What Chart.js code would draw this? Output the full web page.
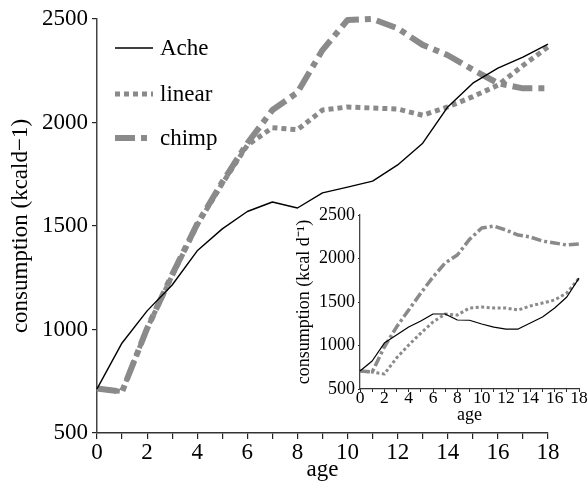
<!DOCTYPE html>
<html>
<head>
<meta charset="utf-8">
<script src="https://cdn.jsdelivr.net/npm/chart.js@4.4.1/dist/chart.umd.min.js"></script>
<style>
  html, body { margin: 0; padding: 0; background: #fff; }
  #wrap { position: relative; width: 588px; height: 485px; overflow: hidden; }
  #main { position: absolute; left: 0; top: 0; }
  #inset { position: absolute; left: 280px; top: 195px; }
</style>
</head>
<body>
<div id="wrap">
  <canvas id="main" width="588" height="485"></canvas>
  <canvas id="inset" width="308" height="235"></canvas>
</div>
<script>
// ---- data ----
const ages = [0, 1, 2, 3, 4, 5, 6, 7, 8, 9, 10, 11, 12, 13, 14, 15, 16, 17, 18];
const seriesNames = ['Ache', 'linear', 'chimp'];

const acheMain   = [713, 935, 1090, 1215, 1380, 1486, 1570, 1616, 1587, 1660, 1688, 1717, 1795, 1900, 2075, 2190, 2263, 2316, 2379];
const linearMain = [715, 700, 1005, 1260, 1505, 1705, 1890, 1975, 1965, 2060, 2075, 2070, 2065, 2035, 2075, 2125, 2180, 2275, 2365];
const chimpMain  = [715, 700, 1005, 1265, 1510, 1712, 1900, 2060, 2145, 2350, 2495, 2500, 2455, 2375, 2325, 2255, 2190, 2165, 2165];

const acheInset   = [707, 822, 1028, 1120, 1212, 1281, 1362, 1362, 1293, 1290, 1247, 1212, 1189, 1189, 1258, 1327, 1431, 1557, 1775];
const linearInset = [707, 695, 672, 856, 1005, 1143, 1270, 1362, 1350, 1431, 1442, 1431, 1431, 1408, 1454, 1488, 1523, 1603, 1775];
const chimpInset  = [707, 695, 983, 1212, 1408, 1603, 1787, 1948, 2040, 2220, 2350, 2373, 2327, 2270, 2247, 2200, 2178, 2155, 2166];

const yTicks = [500, 1000, 1500, 2000, 2500];
const xLabelStep = 2;
const mainYTitle = 'consumption (kcald\u22121)';
const insetYTitle = 'consumption (kcal d\u207B\u00B9)';
const xTitle = 'age';

// ---- helpers ----
const GRAY = '#8a8a8a';
const FONT = "'Liberation Serif', 'Times New Roman', serif";
const pts = arr => ages.map((a, i) => ({ x: a, y: arr[i] }));

function styles(big) {
  return big ? [
    { borderColor: '#000', borderWidth: 1.4, borderDash: [] },
    { borderColor: GRAY, borderWidth: 5, borderDash: [5, 4] },
    { borderColor: GRAY, borderWidth: 6, borderDash: [20, 6, 6, 6] }
  ] : [
    { borderColor: '#000', borderWidth: 1.2, borderDash: [] },
    { borderColor: GRAY, borderWidth: 3, borderDash: [3, 2.5] },
    { borderColor: GRAY, borderWidth: 3.5, borderDash: [10, 3, 3, 3] }
  ];
}

function makeDatasets(arrs, big) {
  const st = styles(big);
  return arrs.map((arr, i) => ({
    label: seriesNames[i],
    data: pts(arr),
    borderColor: st[i].borderColor,
    borderWidth: st[i].borderWidth,
    borderDash: st[i].borderDash,
    borderCapStyle: 'butt',
    borderJoinStyle: 'round',
    pointRadius: 0,
    tension: 0,
    fill: false,
    clip: 10
  }));
}

// legend drawn inside the main plot
const legendPlugin = {
  id: 'innerLegend',
  afterDraw(chart) {
    const ctx = chart.ctx;
    const x0 = 115, x1 = 153, tx = 160;
    const ys = [48, 94, 138];
    chart.data.datasets.forEach((ds, i) => {
      ctx.save();
      ctx.strokeStyle = ds.borderColor;
      ctx.lineWidth = ds.borderWidth;
      ctx.setLineDash(ds.borderDash);
      ctx.lineCap = 'butt';
      ctx.beginPath();
      ctx.moveTo(x0, ys[i]);
      ctx.lineTo(x1, ys[i]);
      ctx.stroke();
      ctx.setLineDash([]);
      ctx.fillStyle = '#000';
      ctx.font = "23px " + FONT;
      ctx.textBaseline = 'middle';
      ctx.textAlign = 'left';
      ctx.fillText(ds.label, tx, ys[i] + 1);
      ctx.restore();
    });
  }
};

Chart.defaults.font.family = FONT;
Chart.defaults.color = '#000';

const plainNum = v => String(v);

// ---- main chart ----
new Chart(document.getElementById('main'), {
  type: 'line',
  data: { datasets: makeDatasets([acheMain, linearMain, chimpMain], true) },
  options: {
    responsive: false,
    animation: false,
    devicePixelRatio: 1,
    layout: { padding: { left: 0, top: 19, right: 40, bottom: 0 } },
    plugins: { legend: { display: false }, tooltip: { enabled: false } },
    scales: {
      x: {
        type: 'linear', min: 0, max: 18,
        afterFit(s) { s.height = 52; },
        border: { display: true, color: '#333', width: 1.5 },
        grid: { display: true, drawOnChartArea: false, drawTicks: true, tickLength: 6, color: '#222', lineWidth: 1.2 },
        ticks: {
          stepSize: 1, autoSkip: false, maxRotation: 0, padding: 0,
          font: { size: 23, lineHeight: 1.2 },
          callback: v => (v % xLabelStep === 0 ? String(v) : '')
        },
        title: { display: true, text: xTitle, font: { size: 23, lineHeight: 1.2 }, padding: { top: 0, bottom: 1 } }
      },
      y: {
        type: 'linear', min: yTicks[0], max: yTicks[yTicks.length - 1],
        afterFit(s) { s.width = 97; },
        afterBuildTicks(s) { s.ticks = yTicks.map(v => ({ value: v })); },
        border: { display: true, color: '#444', width: 1.5 },
        grid: { display: true, drawOnChartArea: false, drawTicks: true, tickLength: 5, color: '#222', lineWidth: 1.2 },
        ticks: { padding: 4, font: { size: 23, lineHeight: 1.2 }, callback: plainNum },
        title: { display: true, text: mainYTitle, font: { size: 23, lineHeight: 1.2 }, padding: { top: 7, bottom: 0 } }
      }
    }
  },
  plugins: [legendPlugin]
});

// ---- inset chart ----
new Chart(document.getElementById('inset'), {
  type: 'line',
  data: { datasets: makeDatasets([acheInset, linearInset, chimpInset], false) },
  options: {
    responsive: false,
    animation: false,
    devicePixelRatio: 1,
    layout: { padding: { left: 0, top: 20, right: 9, bottom: 0 } },
    plugins: { legend: { display: false }, tooltip: { enabled: false } },
    scales: {
      x: {
        type: 'linear', min: 0, max: 18,
        afterFit(s) { s.height = 41; },
        border: { display: true, color: '#333', width: 1.2 },
        grid: { display: true, drawOnChartArea: false, drawTicks: true, tickLength: 3, color: '#222', lineWidth: 1 },
        ticks: {
          stepSize: 1, autoSkip: false, maxRotation: 0, padding: -2,
          font: { size: 17.5, lineHeight: 1.0 },
          callback: v => (v % xLabelStep === 0 ? String(v) : '')
        },
        title: { display: true, text: xTitle, font: { size: 18, lineHeight: 1.2 }, padding: { top: 0, bottom: 4 } }
      },
      y: {
        type: 'linear', min: yTicks[0], max: yTicks[yTicks.length - 1],
        afterFit(s) { s.width = 80; },
        afterBuildTicks(s) { s.ticks = yTicks.map(v => ({ value: v })); },
        border: { display: true, color: '#444', width: 1.3 },
        grid: { display: true, drawOnChartArea: false, drawTicks: true, tickLength: 2, color: '#222', lineWidth: 1 },
        ticks: { padding: 3, font: { size: 18, lineHeight: 1.0 }, callback: plainNum },
        title: { display: true, text: insetYTitle, font: { size: 18, lineHeight: 1.2 }, padding: { top: 13, bottom: 0 } }
      }
    }
  }
});
</script>
</body>
</html>
